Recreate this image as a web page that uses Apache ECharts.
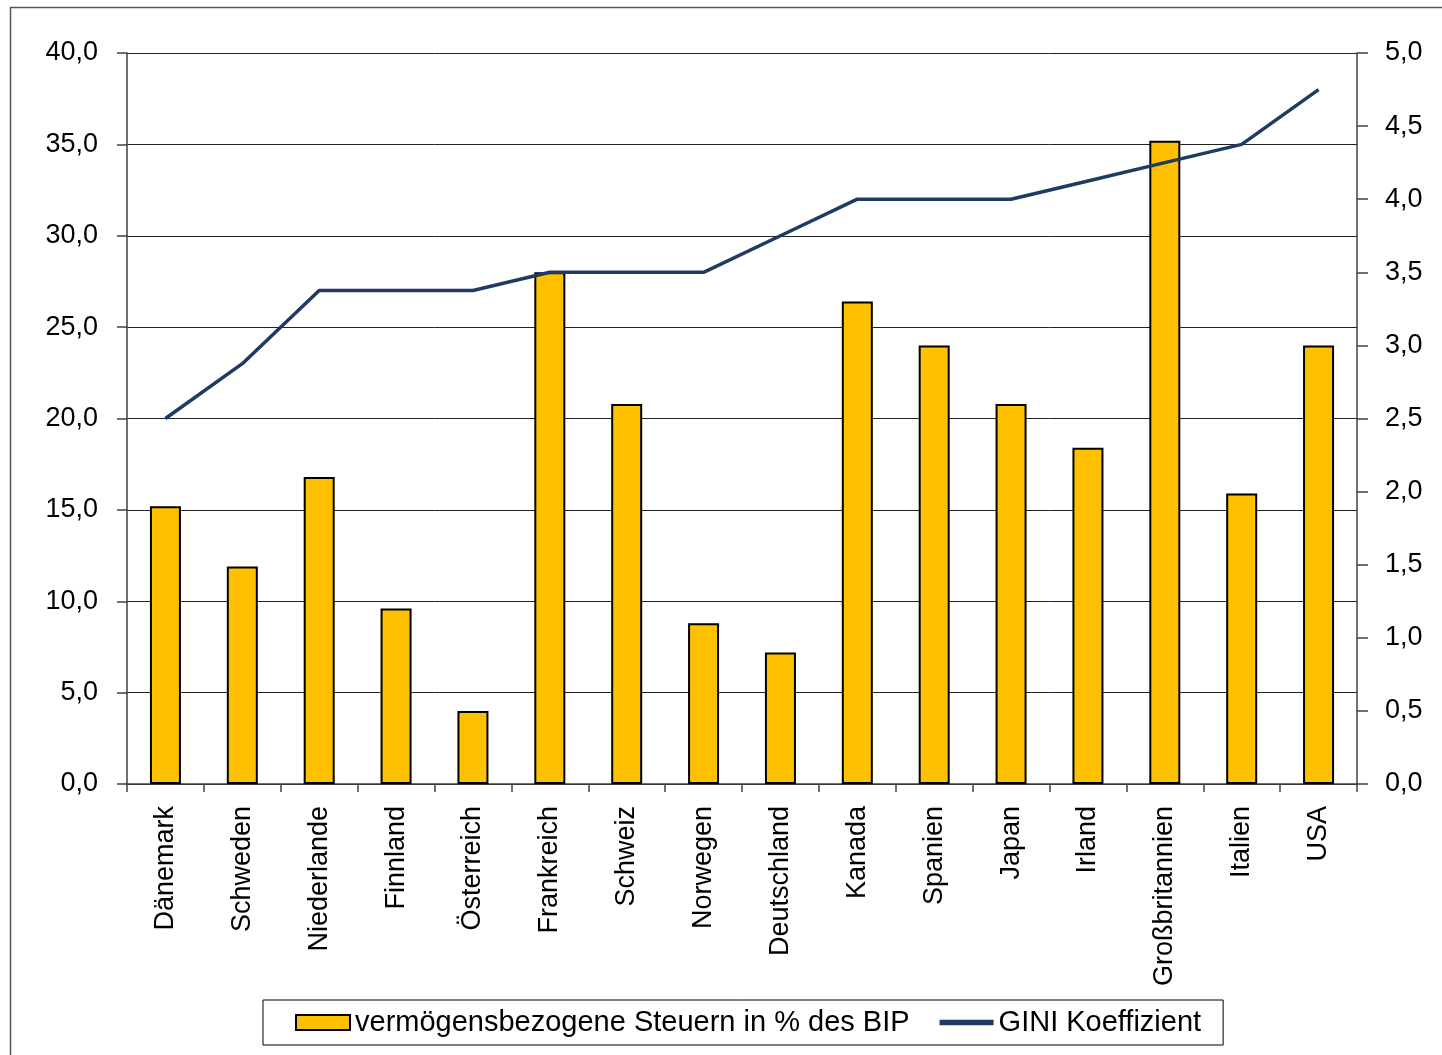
<!DOCTYPE html>
<html>
<head>
<meta charset="utf-8">
<script src="https://cdn.jsdelivr.net/npm/echarts@6/dist/echarts.min.js"></script>
<style>
html,body{margin:0;padding:0;background:#fff;}
#main{width:1442px;height:1055px;}
</style>
</head>
<body>
<div id="main"></div>
<script>
const categories = ["Dänemark","Schweden","Niederlande","Finnland","Österreich","Frankreich","Schweiz","Norwegen","Deutschland","Kanada","Spanien","Japan","Irland","Großbritannien","Italien","USA"];
const taxValues = [15.2, 11.9, 16.8, 9.6, 4.0, 28.0, 20.8, 8.8, 7.2, 26.4, 24.0, 20.8, 18.4, 35.2, 15.9, 24.0];
const giniValues = [2.5, 2.875, 3.375, 3.375, 3.375, 3.5, 3.5, 3.5, 3.75, 4.0, 4.0, 4.0, 4.125, 4.25, 4.375, 4.75];
const seriesNames = ["vermögensbezogene Steuern in % des BIP", "GINI Koeffizient"];

const fmt = v => v.toFixed(1).replace('.', ',');
const font = "'Liberation Sans', Arial, sans-serif";

const chart = echarts.init(document.getElementById('main'), null, {renderer: 'canvas'});
chart.setOption({
  animation: false,
  backgroundColor: '#fff',
  textStyle: {fontFamily: font},
  graphic: [{
    type: 'rect', left: 8, top: 5, silent: true, z: -1,
    shape: {width: 1450, height: 1060},
    style: {fill: 'none', stroke: '#555', lineWidth: 1.5}
  }],
  grid: {left: 127, right: 85, top: 53, bottom: 271, containLabel: false},
  legend: {
    top: 1000, left: 263,
    padding: [8, 22, 8, 32],
    itemGap: 30,
    itemWidth: 54, itemHeight: 15,
    borderColor: '#000', borderWidth: 1,
    textStyle: {fontFamily: font, fontSize: 29, color: '#000'},
    data: [
      {name: seriesNames[0], icon: 'rect', itemStyle: {color: '#FFC000', borderColor: '#000', borderWidth: 2}},
      {name: seriesNames[1], icon: 'path://M0,0 L10,0 L10,1 L0,1 Z', itemStyle: {color: '#1F3B63'}}
    ]
  },
  xAxis: {
    type: 'category',
    data: categories,
    boundaryGap: true,
    axisLine: {lineStyle: {color: '#404040', width: 1.5}},
    axisTick: {show: true, alignWithLabel: false, length: 8, lineStyle: {color: '#404040', width: 1.5}},
    axisLabel: {rotate: 90, interval: 0, margin: 22, fontSize: 27, color: '#000', fontFamily: font}
  },
  yAxis: [{
    type: 'value', min: 0, max: 40, interval: 5, position: 'left',
    axisLine: {show: true, lineStyle: {color: '#404040', width: 1.5}},
    axisTick: {show: true, length: 10, lineStyle: {color: '#404040', width: 1.5}},
    axisLabel: {formatter: fmt, fontSize: 27, color: '#000', margin: 29, fontFamily: font},
    splitLine: {show: true, lineStyle: {color: '#222', width: 1}}
  }, {
    type: 'value', min: 0, max: 5, interval: 0.5, position: 'right',
    axisLine: {show: true, lineStyle: {color: '#404040', width: 1.5}},
    axisTick: {show: true, inside: false, length: 11, lineStyle: {color: '#404040', width: 1.5}},
    axisLabel: {formatter: fmt, fontSize: 27, color: '#000', margin: 28, fontFamily: font},
    splitLine: {show: false}
  }],
  series: [{
    name: seriesNames[0],
    type: 'bar',
    yAxisIndex: 0,
    data: taxValues,
    barWidth: 31,
    itemStyle: {color: '#FFC000', borderColor: '#000', borderWidth: 2}
  }, {
    name: seriesNames[1],
    type: 'line',
    yAxisIndex: 1,
    data: giniValues,
    symbol: 'none',
    lineStyle: {color: '#1F3B63', width: 3.5},
    itemStyle: {color: '#1F3B63'},
    z: 5
  }]
});
</script>
</body>
</html>
